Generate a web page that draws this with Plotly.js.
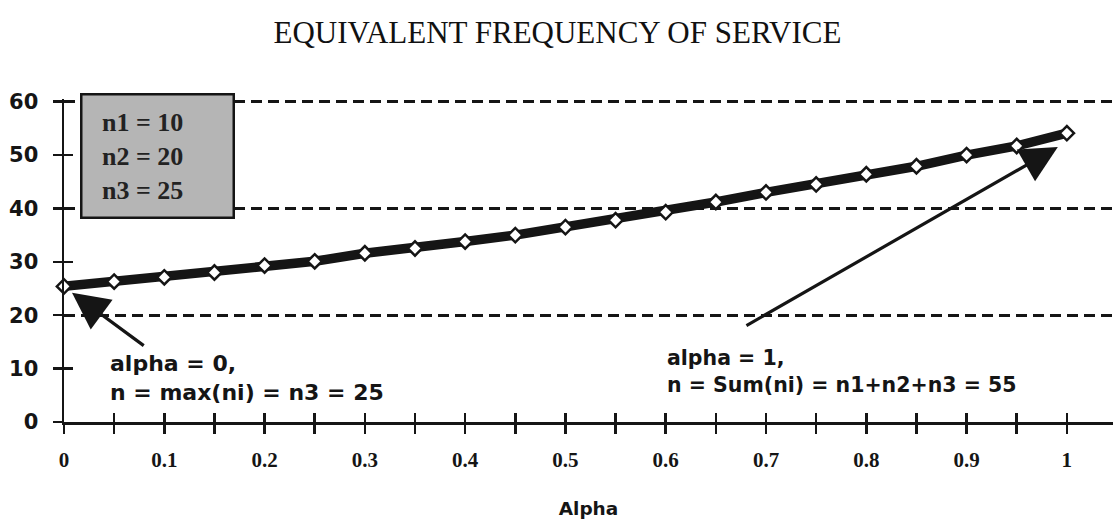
<!DOCTYPE html>
<html><head><meta charset="utf-8">
<script src="https://cdn.plot.ly/plotly-3.0.1.min.js"></script>
<style>html,body{margin:0;padding:0;background:#fff}#chart{width:1115px;height:522px}</style>
</head><body><div id="chart"></div>
<script>
// Data
const alpha = [0, 0.05, 0.1, 0.15, 0.2, 0.25, 0.3, 0.35, 0.4, 0.45, 0.5, 0.55, 0.6, 0.65, 0.7, 0.75, 0.8, 0.85, 0.9, 0.95, 1];
const freq = [25.4, 26.3, 27.1, 28.0, 29.3, 30.1, 31.6, 32.5, 33.8, 35.0, 36.5, 37.8, 39.3, 41.2, 43.0, 44.5, 46.4, 47.9, 50.0, 51.7, 54.1];
const yTickVals = [0, 10, 20, 30, 40, 50, 60];
const gridVals = [20, 40, 60];
const boxLines = ["n1 = 10", "n2 = 20", "n3 = 25"];
const note0 = "alpha = 0,<br>n = max(ni) = n3 = 25";
const note1 = "alpha = 1,<br>n = Sum(ni) = n1+n2+n3 = 55";

const INK = '#151515';
const serif = 'Liberation Serif, Times New Roman, serif';
const sans = 'DejaVu Sans, Liberation Sans, sans-serif';

const traces = [
  {x: alpha, y: freq, xaxis: 'x', yaxis: 'y3', mode: 'none', hoverinfo: 'skip', showlegend: false},
  {x: alpha, y: freq, xaxis: 'x2', yaxis: 'y2', mode: 'none', hoverinfo: 'skip', showlegend: false},
  {x: alpha, y: freq, xaxis: 'x', yaxis: 'y', type: 'scatter', mode: 'lines+markers',
   cliponaxis: false, showlegend: false,
   line: {color: INK, width: 9.5},
   marker: {symbol: 'diamond', size: 11, color: '#ffffff', line: {color: INK, width: 2.5}}}
];

const xr = [0, 1.046];
const yr = [0, 60.5];

const layout = {
  width: 1115, height: 522,
  margin: {l: 64, r: 2, t: 99, b: 100},
  paper_bgcolor: '#ffffff', plot_bgcolor: 'rgba(0,0,0,0)',
  showlegend: false,
  title: {text: 'EQUIVALENT FREQUENCY OF SERVICE', x: 0.5, xanchor: 'center', xref: 'container',
          y: 0.938, yanchor: 'middle', yref: 'container',
          font: {family: serif, size: 31, color: '#111'}},
  xaxis: {range: xr, dtick: 0.1, tick0: 0, showgrid: false, zeroline: false,
          showline: true, linecolor: INK, linewidth: 2.5,
          ticks: 'outside', ticklen: 9, tickwidth: 2.5, tickcolor: INK,
          minor: {dtick: 0.05, tick0: 0, ticks: 'outside', ticklen: 9, tickwidth: 2.5, tickcolor: INK, showgrid: false},
          ticklabelstandoff: 8,
          tickfont: {family: serif, size: 21, color: INK, weight: 'bold'},
          title: {text: 'Alpha', font: {family: sans, size: 18.5, color: INK, weight: 'bold'}, standoff: 32}},
  xaxis2: {range: xr, overlaying: 'x', anchor: 'y', dtick: 0.05, tick0: 0, showgrid: false, zeroline: false,
           showline: false, showticklabels: false,
           ticks: 'inside', ticklen: 9, tickwidth: 2.5, tickcolor: INK},
  yaxis: {range: yr, tickvals: yTickVals, showgrid: false, zeroline: false,
          showline: true, linecolor: INK, linewidth: 2.5,
          ticks: 'outside', ticklen: 9, tickwidth: 2.5, tickcolor: INK,
          ticklabelstandoff: 10,
          tickfont: {family: sans, size: 21, color: INK, weight: 'bold'}},
  yaxis2: {range: yr, overlaying: 'y', anchor: 'x', tickvals: yTickVals, showgrid: false, zeroline: false,
           showline: false, showticklabels: false,
           ticks: 'inside', ticklen: 9, tickwidth: 2.5, tickcolor: INK},
  yaxis3: {range: yr, overlaying: 'y', anchor: 'x', tickvals: gridVals, showgrid: true, zeroline: false,
           gridcolor: INK, gridwidth: 3, griddash: '11px,6px',
           showline: false, showticklabels: false, ticks: ''},
  annotations: [
    {xref: 'paper', yref: 'paper', x: 0.0153, y: 1.0186, xanchor: 'left', yanchor: 'top',
     text: ' ', showarrow: false, width: 150, height: 121, borderpad: 0,
     bgcolor: '#b5b5b5', bordercolor: INK, borderwidth: 2.5,
     font: {family: serif, size: 12, color: INK}},
    {xref: 'paper', yref: 'paper', x: 0.0343, y: 0.8235, xanchor: 'left', yanchor: 'middle',
     text: boxLines.join('<br>'), showarrow: false, align: 'left',
     font: {family: serif, size: 26, color: '#222', weight: 'bold'}},
    {xref: 'x', yref: 'y', x: 0.044, y: 13.6, xanchor: 'left', yanchor: 'top',
     text: note0, showarrow: false, align: 'left',
     font: {family: sans, size: 22, color: INK, weight: 'bold'}},
    {xref: 'x', yref: 'y', x: 0.599, y: 14.6, xanchor: 'left', yanchor: 'top',
     text: note1, showarrow: false, align: 'left',
     font: {family: sans, size: 20.5, color: INK, weight: 'bold'}},
    {xref: 'x', yref: 'y', axref: 'x', ayref: 'y', x: 0.008, y: 24.2, ax: 0.081, ay: 14.1,
     text: '', showarrow: true, arrowhead: 2, arrowsize: 2.3, arrowwidth: 3.2, arrowcolor: INK, standoff: 0},
    {xref: 'x', yref: 'y', axref: 'x', ayref: 'y', x: 0.991, y: 51.5, ax: 0.679, ay: 17.9,
     text: '', showarrow: true, arrowhead: 2, arrowsize: 2.3, arrowwidth: 3.2, arrowcolor: INK, standoff: 0}
  ]
};

Plotly.newPlot('chart', traces, layout, {displayModeBar: false, staticPlot: true});
</script>
</body></html>
